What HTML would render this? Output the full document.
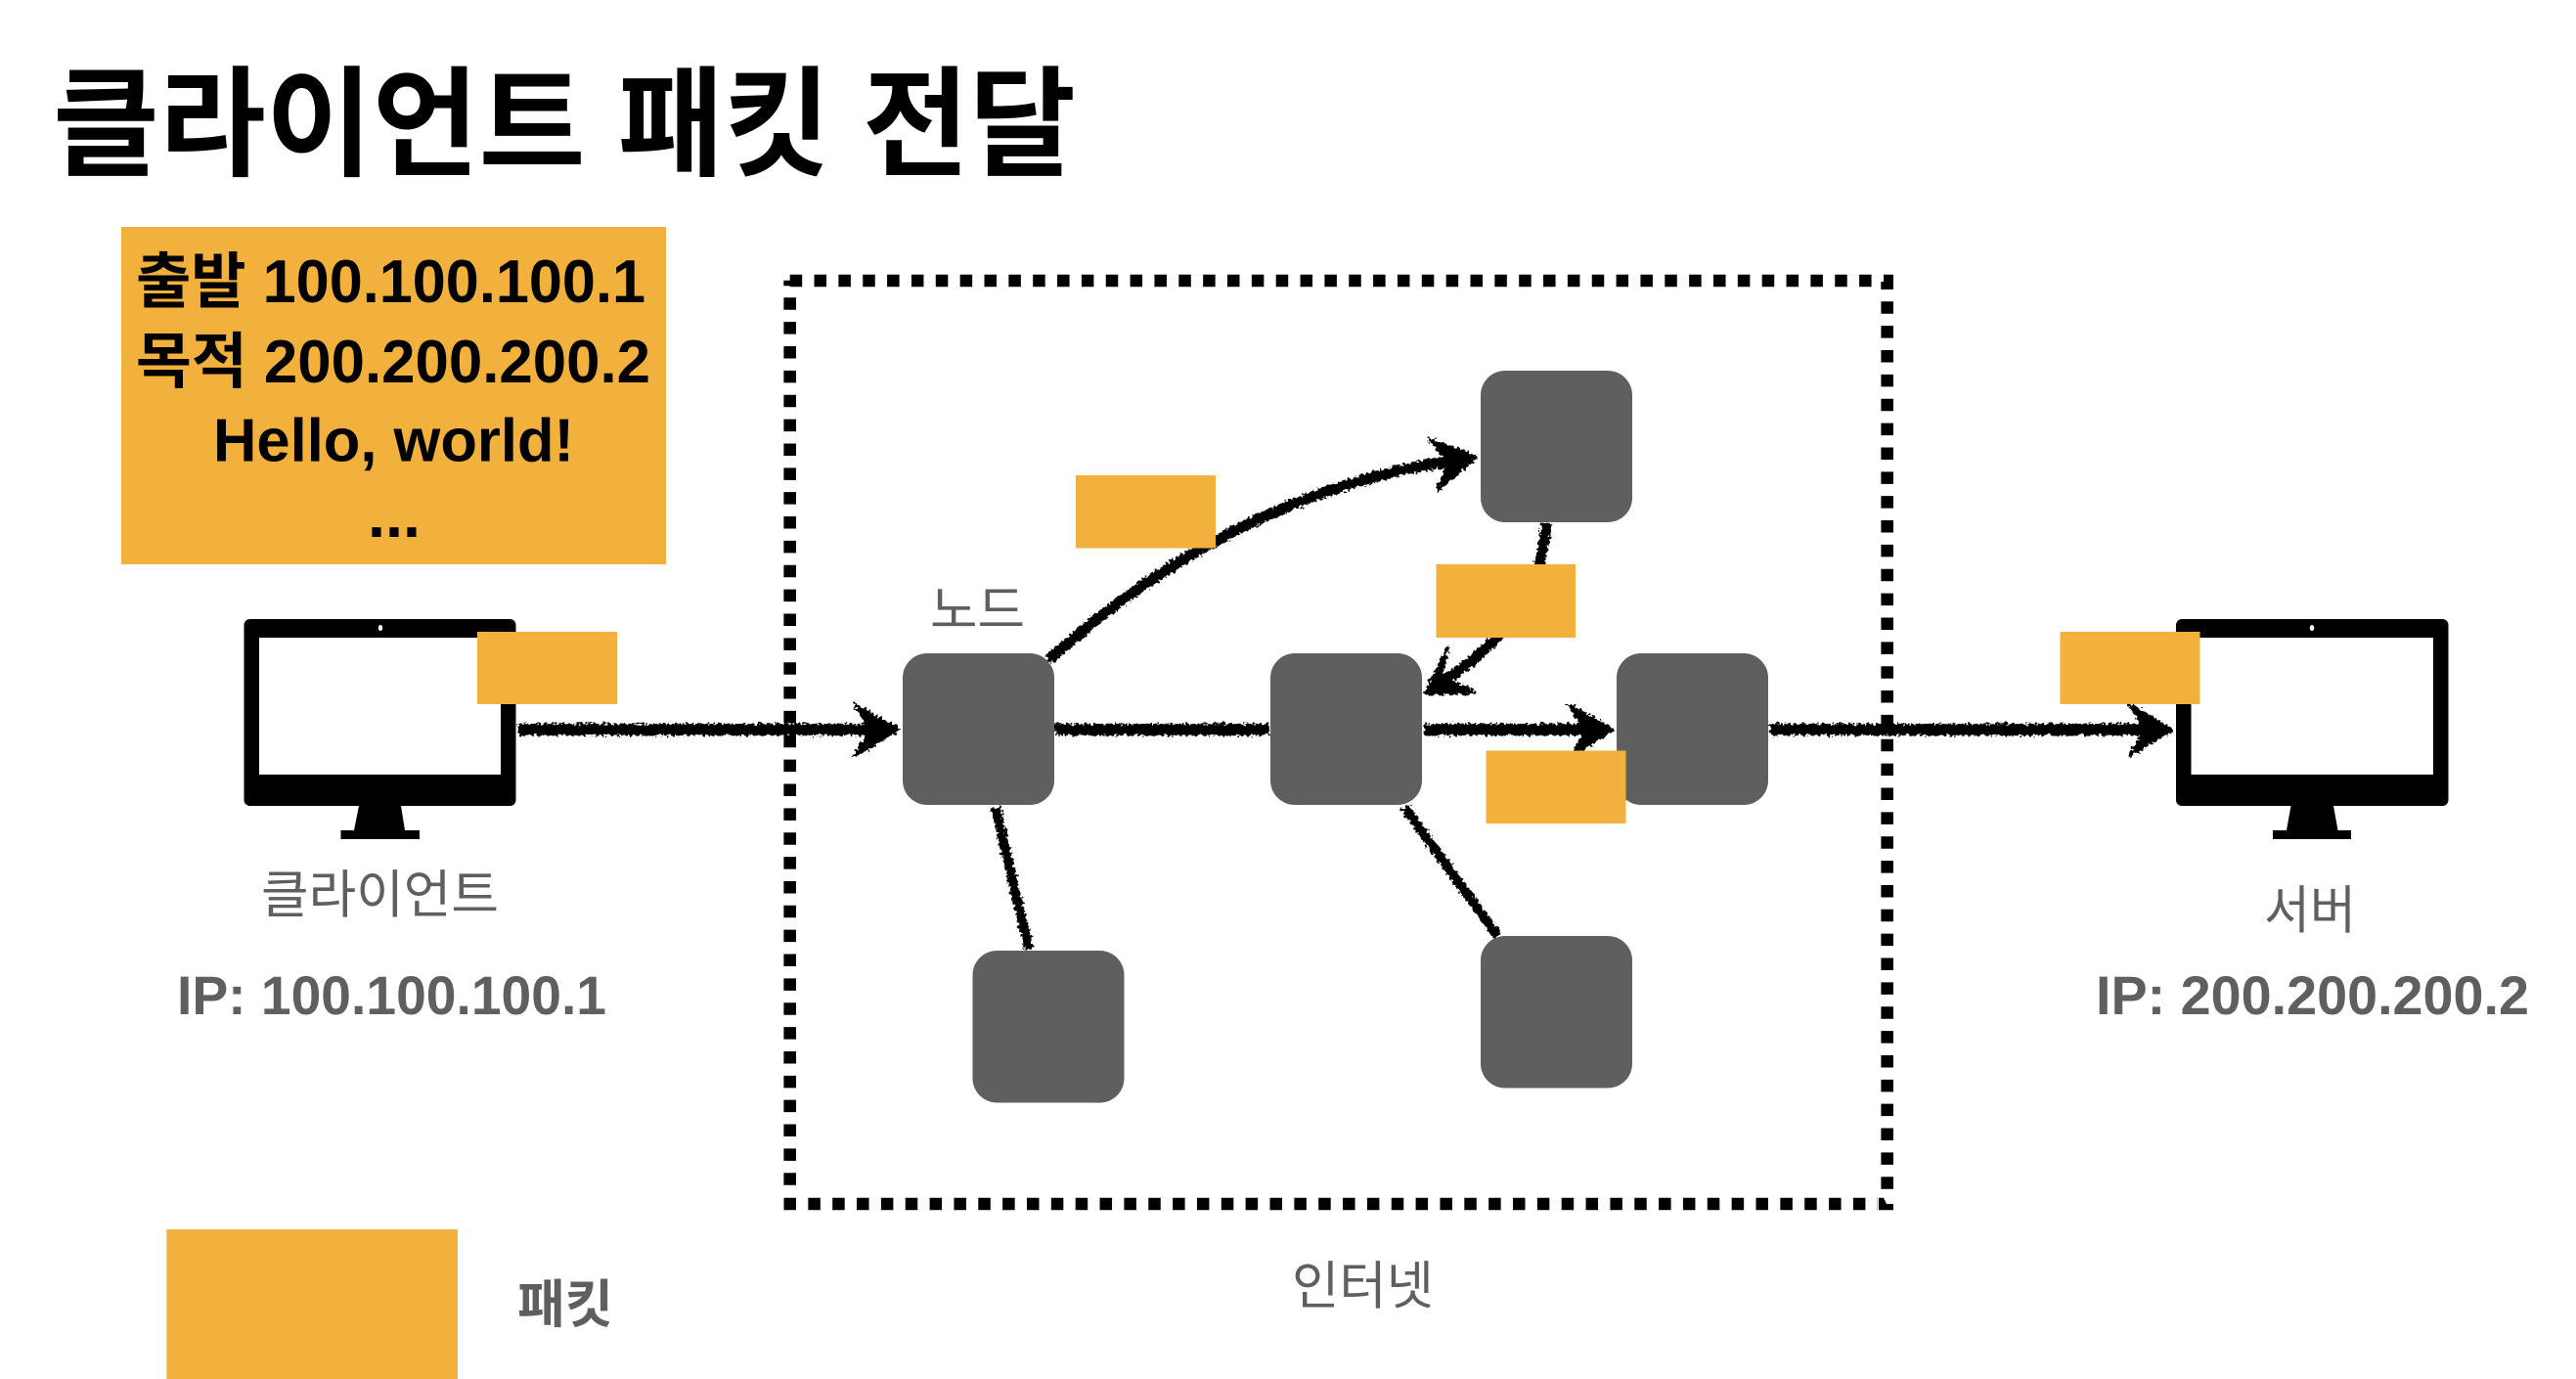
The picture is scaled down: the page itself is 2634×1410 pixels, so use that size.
<!DOCTYPE html>
<html lang="ko">
<head>
<meta charset="utf-8">
<title>클라이언트 패킷 전달</title>
<style>
html,body{margin:0;padding:0;background:#fff;width:2634px;height:1410px;overflow:hidden}
svg{display:block}
text{font-family:"Liberation Sans","Noto Sans CJK KR",sans-serif}
.b{font-weight:700}
.g{fill:#5f5f5f}
.p{fill:#f2b13c}
.n{fill:#5f5f5f}
</style>
</head>
<body>
<svg xmlns="http://www.w3.org/2000/svg" width="2634" height="1410" viewBox="0 0 2634 1410">
<defs>
<filter id="chalk" filterUnits="userSpaceOnUse" x="0" y="0" width="2634" height="1410" color-interpolation-filters="sRGB">
<feTurbulence type="fractalNoise" baseFrequency="0.32" numOctaves="2" seed="4" result="t"/>
<feDisplacementMap in="SourceGraphic" in2="t" scale="8" xChannelSelector="R" yChannelSelector="G"/>
</filter>
</defs>
<rect width="2634" height="1410" fill="#fff"/>

<text class="b" x="54" y="170" font-size="122" textLength="1046" lengthAdjust="spacingAndGlyphs">클라이언트 패킷 전달</text>

<rect class="p" x="124" y="232" width="557" height="345"/>
<text class="b" x="139" y="309" font-size="62" textLength="521" lengthAdjust="spacingAndGlyphs">출발 100.100.100.1</text>
<text class="b" x="139" y="391" font-size="62" textLength="526" lengthAdjust="spacingAndGlyphs">목적 200.200.200.2</text>
<text class="b" x="218" y="471.5" font-size="62" textLength="369" lengthAdjust="spacingAndGlyphs">Hello, world!</text>
<text class="b" x="376" y="549" font-size="66" textLength="54" lengthAdjust="spacingAndGlyphs">...</text>

<!-- internet dashed box -->
<g stroke="#000" stroke-width="12.6" fill="none">
<line x1="807.7" y1="287" x2="1914.2" y2="287" stroke-dasharray="12.5 12.35"/>
<line x1="807.7" y1="304.3" x2="807.7" y2="1212" stroke-dasharray="12.5 12.36"/>
<line x1="1929.7" y1="308.3" x2="1929.7" y2="1216" stroke-dasharray="12.5 12.36"/>
<line x1="801.5" y1="1231" x2="1920" y2="1231" stroke-dasharray="12.5 12.35"/>
</g>
<path d="M801.3 286.7H808V292.3H801.3Z M1926 280.7H1936V296H1923.3V288H1926Z M1921 1224.7H1926L1929 1231H1936V1237.3H1921Z" fill="#000"/>

<!-- left monitor -->
<rect x="249.5" y="633" width="278" height="191" rx="6" fill="#000"/>
<rect x="265" y="652" width="247" height="140" fill="#fff"/>
<ellipse cx="389" cy="642" rx="2.2" ry="3" fill="#fff"/>
<path d="M367 824H410L414 849H429V858H348.5V849H362Z" fill="#000"/>

<!-- right monitor -->
<rect x="2225" y="633" width="278.5" height="191" rx="6" fill="#000"/>
<rect x="2240.5" y="652" width="247.5" height="140" fill="#fff"/>
<ellipse cx="2364" cy="642" rx="2.2" ry="3" fill="#fff"/>
<path d="M2342.5 824H2386L2390.5 849H2404V858H2324V849H2338Z" fill="#000"/>

<!-- chalk connectors -->
<g filter="url(#chalk)">
<g stroke="#000" stroke-width="12" fill="none">
<path d="M530 746H905"/>
<path d="M1079 746H1298"/>
<path d="M1456 746H1640"/>
<path d="M1810 746H2210"/>
<path d="M1072 675Q1268 499 1500 469" stroke-width="11"/>
<path d="M1581 536Q1573 640 1466 702" stroke-width="11"/>
<path d="M1018 826L1052 971" stroke-width="9.5"/>
<path d="M1436 825L1531 957" stroke-width="9.5"/>
</g>
<g fill="#000" stroke="#000" stroke-width="3" stroke-linejoin="round">
<path d="M919 746L874 720L890 746L874 773Z"/>
<path d="M1510 467L1461 449L1482 472L1470 501Z"/>
<path d="M1457 709L1480 662L1474 692L1509 708Z"/>
<path d="M1649 746L1604 720L1621 746L1608 773Z"/>
<path d="M2221 746L2177 720L2193 746L2177 773Z"/>
</g>
</g>

<!-- nodes -->
<rect class="n" x="923" y="668" width="155" height="155" rx="25"/>
<rect class="n" x="1299" y="668" width="155" height="155" rx="25"/>
<rect class="n" x="1653" y="668" width="155" height="155" rx="25"/>
<rect class="n" x="1514" y="379" width="155" height="155" rx="25"/>
<rect class="n" x="994.5" y="972" width="155" height="155.5" rx="25"/>
<rect class="n" x="1514" y="957" width="155" height="155.5" rx="25"/>

<!-- packets -->
<rect class="p" x="488" y="646" width="143" height="74"/>
<rect class="p" x="1100" y="486" width="143" height="74.5"/>
<rect class="p" x="1468.5" y="577" width="142.5" height="75"/>
<rect class="p" x="1519.5" y="767.5" width="143" height="74.5"/>
<rect class="p" x="2106.5" y="646" width="143" height="74"/>
<rect class="p" x="170.4" y="1257" width="297.6" height="153"/>

<!-- labels -->
<text class="g" x="267" y="933" font-size="53" textLength="243" lengthAdjust="spacingAndGlyphs">클라이언트</text>
<text class="b g" x="181" y="1037" font-size="56" textLength="439" lengthAdjust="spacingAndGlyphs">IP: 100.100.100.1</text>
<text class="g" x="951" y="642" font-size="53" textLength="97" lengthAdjust="spacingAndGlyphs">노드</text>
<text class="g" x="2315" y="949" font-size="53" textLength="94" lengthAdjust="spacingAndGlyphs">서버</text>
<text class="b g" x="2143" y="1037" font-size="56" textLength="443" lengthAdjust="spacingAndGlyphs">IP: 200.200.200.2</text>
<text class="g" x="1321" y="1333" font-size="53" textLength="145" lengthAdjust="spacingAndGlyphs">인터넷</text>
<text class="b g" x="529" y="1352" font-size="53" textLength="98" lengthAdjust="spacingAndGlyphs">패킷</text>
</svg>
</body>
</html>
